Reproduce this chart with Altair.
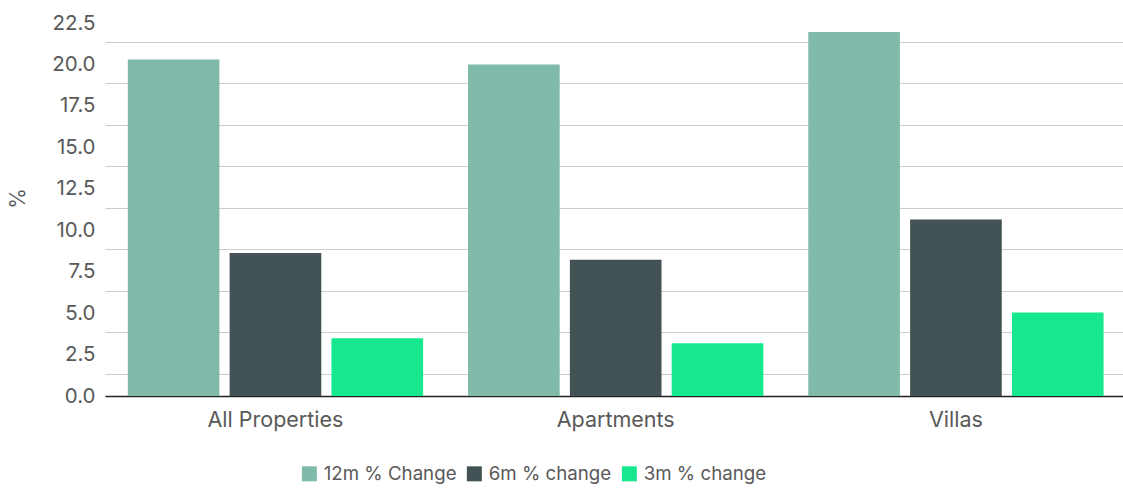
import altair as alt
import pandas as pd

categories = ["All Properties", "Apartments", "Villas"]
series = ["12m % Change", "6m % change", "3m % change"]
change_12m = [20.3, 20.0, 21.95]
change_6m = [8.62, 8.22, 10.65]
change_3m = [3.48, 3.18, 5.04]
colors = ["#80BAAB", "#435254", "#17E88F"]
y_ticks = [0, 2.5, 5, 7.5, 10, 12.5, 15, 17.5, 20, 22.5]

rows = []
for i, c in enumerate(categories):
    for s, vals in zip(series, [change_12m, change_6m, change_3m]):
        rows.append({"category": c, "series": s, "value": vals[i]})
df = pd.DataFrame(rows)

FONT = "Inter"
TXT = "#595959"

chart = alt.Chart(df).mark_bar().encode(
    x=alt.X("category:N", sort=categories,
            scale=alt.Scale(paddingInner=0.132, paddingOuter=0.062, align=0.54),
            axis=alt.Axis(title=None, labelAngle=0, labelFontSize=21.5, labelFont=FONT,
                          labelColor=TXT, ticks=False, labelPadding=13,
                          domainColor="#222222", domainWidth=1.5, grid=False)),
    xOffset=alt.XOffset("series:N", sort=series,
                        scale=alt.Scale(paddingInner=0.1, paddingOuter=0)),
    y=alt.Y("value:Q", scale=alt.Scale(domain=[0, 22.5], nice=False),
            axis=alt.Axis(title="%", values=y_ticks, format=".1f", labelFontSize=20.5,
                          labelFont=FONT, labelColor=TXT, ticks=False, domain=False,
                          labelPadding=10, tickOffset=19, labelOffset=-19,
                          gridColor="#cccccc", gridWidth=1.2,
                          gridOpacity=alt.condition("datum.value === 0", alt.value(0), alt.value(1)),
                          titleFont=FONT, titleFontSize=21, titleFontWeight="normal",
                          titleColor=TXT, titleX=-77, titleY=175)),
    color=alt.Color("series:N", sort=series,
                    scale=alt.Scale(domain=series, range=colors),
                    legend=alt.Legend(title=None, orient="none", direction="horizontal",
                                      legendX=195, legendY=441, symbolType="square",
                                      symbolSize=225, symbolStrokeWidth=0,
                                      labelFont=FONT, labelFontSize=18.7, labelColor=TXT,
                                      labelOffset=5, columnPadding=8)),
).properties(
    width=1018, height=373,
    title=alt.TitleParams(text="CBRE Research | REIDIN", orient="bottom", anchor="start",
                          frame="group", fontSize=17, font=FONT, fontWeight="normal",
                          color="#003F2D", dx=-65, offset=64)
).configure(
    autosize=alt.AutoSizeParams(type="none"),
    padding={"left": 105, "top": 23, "right": 0, "bottom": 100},
).configure_view(stroke=None)

chart.save("out.html", embed_options={"renderer": "svg", "actions": False})
